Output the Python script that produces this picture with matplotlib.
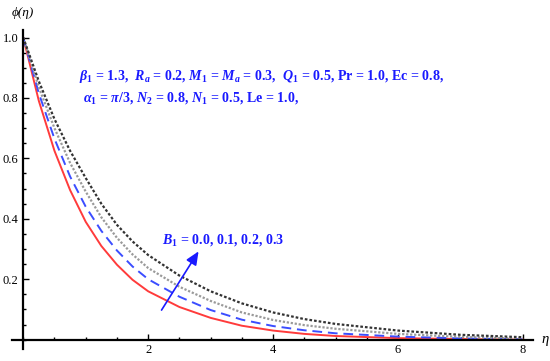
import numpy as np
import matplotlib
matplotlib.use("Agg")
import matplotlib.pyplot as plt
from matplotlib.ticker import MultipleLocator, FixedLocator

plt.rcParams["font.family"] = ["Liberation Serif", "DejaVu Serif"]
plt.rcParams["mathtext.fontset"] = "custom"
plt.rcParams["mathtext.rm"] = "Liberation Serif:bold"
plt.rcParams["mathtext.it"] = "Liberation Serif:italic:bold"
plt.rcParams["mathtext.bf"] = "Liberation Serif:bold"

# -----------------------------
# data
# -----------------------------
eta = [0, 0.25, 0.5, 0.75, 1.0, 1.25, 1.5, 1.75, 2.0, 2.5, 3.0, 3.5, 4.0, 4.5, 5.0, 6.0, 7.0, 8.0]
phi_b00 = [1.0, 0.79, 0.625, 0.495, 0.39, 0.31, 0.248, 0.198, 0.16, 0.108, 0.072, 0.046, 0.030, 0.019, 0.012, 0.005, 0.002, 0.0]
phi_b01 = [1.0, 0.815, 0.665, 0.54, 0.44, 0.36, 0.295, 0.242, 0.20, 0.142, 0.098, 0.066, 0.045, 0.031, 0.021, 0.010, 0.004, 0.001]
phi_b02 = [1.0, 0.835, 0.70, 0.585, 0.49, 0.405, 0.337, 0.282, 0.237, 0.175, 0.128, 0.09, 0.065, 0.048, 0.036, 0.019, 0.009, 0.003]
phi_b03 = [1.0, 0.855, 0.73, 0.625, 0.535, 0.45, 0.38, 0.325, 0.28, 0.212, 0.16, 0.12, 0.09, 0.068, 0.052, 0.030, 0.016, 0.008]

x_ticks = [2, 4, 6, 8]
y_ticks = [0.2, 0.4, 0.6, 0.8, 1.0]

fig = plt.figure(figsize=(5.5, 3.61), dpi=100)
ax = fig.add_axes([12 / 550, 12 / 361, 521 / 550, 319 / 361])

ax.plot(eta, phi_b00, color="#ff3b3b", lw=1.4, ls="-")
ax.plot(eta, phi_b01, color="#3b4dff", lw=1.4, ls=(0, (5, 3)))
ax.plot(eta, phi_b02, color="#9a9a9a", lw=1.6, ls=(0, (1, 0.8)))
ax.plot(eta, phi_b03, color="#333333", lw=1.6, ls=(0, (1.2, 0.9)))

ax.set_xlim(-0.18, 8.16)
ax.set_ylim(-0.031, 1.025)

for s in ["top", "right"]:
    ax.spines[s].set_visible(False)
ax.spines["left"].set_position(("data", 0))
ax.spines["bottom"].set_position(("data", 0))
ax.spines["left"].set_linewidth(1.6)
ax.spines["bottom"].set_linewidth(1.6)

ax.xaxis.set_major_locator(FixedLocator(x_ticks))
ax.xaxis.set_minor_locator(MultipleLocator(0.5))
ax.yaxis.set_major_locator(FixedLocator(y_ticks))
ax.yaxis.set_minor_locator(MultipleLocator(0.05))
ax.tick_params(which="both", direction="in", labelsize=9, width=1.0)
ax.tick_params(which="major", length=4)
ax.tick_params(which="minor", length=2)
ax.set_xticklabels([str(t) for t in x_ticks])
ax.set_yticklabels(["%.1f" % t for t in y_ticks])

ax.text(0, 1.06, "ϕ(η)", style="italic", fontsize=9.5, ha="center", va="bottom",
        clip_on=False)
ax.text(8.3, 0.0, "η", style="italic", fontsize=10.5, ha="left", va="center", clip_on=False)

ax.text(0.9, 0.87, r"$\beta_1$ = 1.3,  $R_a$ = 0.2, $M_1$ = $M_a$ = 0.3,  $Q_1$ = 0.5, Pr = 1.0, Ec = 0.8,",
        color="#1a1aff", fontsize=10.1, fontweight="bold", va="center")
ax.text(0.95, 0.80, r"$\alpha_1$ = $\pi$/3, $N_2$ = 0.8, $N_1$ = 0.5, Le = 1.0,",
        color="#1a1aff", fontsize=10.1, fontweight="bold", va="center")

ax.annotate("", xy=(2.83, 0.30), xytext=(2.19, 0.09),
            arrowprops=dict(arrowstyle="-|>,head_length=0.8,head_width=0.35", color="#1a1aff", lw=1.2))
ax.text(2.22, 0.33, r"$B_1$ = 0.0, 0.1, 0.2, 0.3", color="#1a1aff", fontsize=10.1,
        fontweight="bold", va="center")

fig.savefig("out.png", dpi=100)
